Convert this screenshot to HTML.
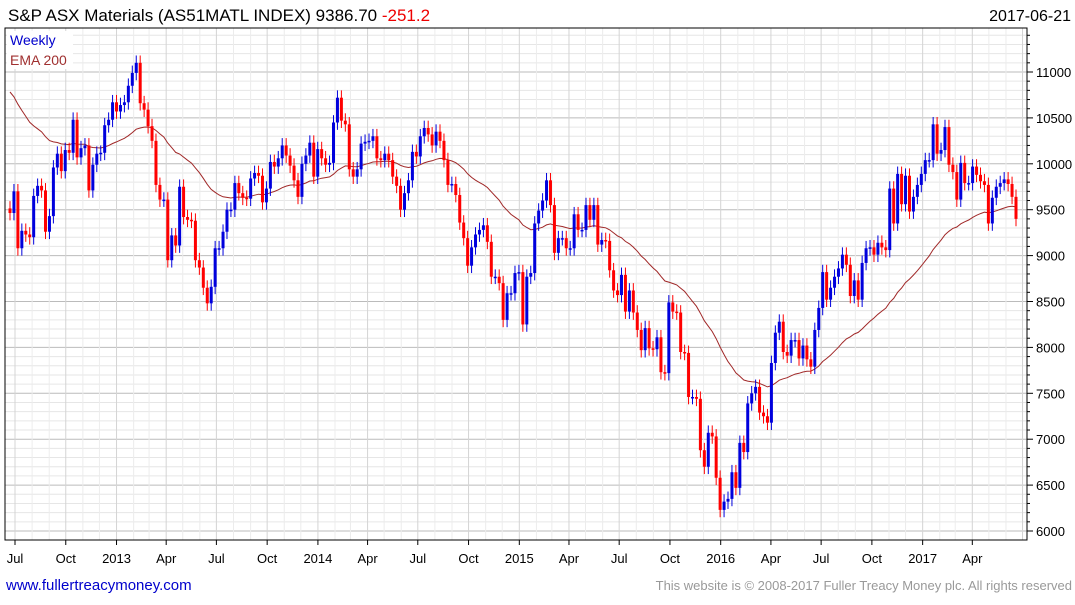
<!DOCTYPE html>
<html><head><meta charset="utf-8"><style>
body{margin:0;background:#fff;font-family:"Liberation Sans",sans-serif}
svg text{font-family:"Liberation Sans",sans-serif}
</style></head><body>
<svg id="c" width="1075" height="600" xmlns="http://www.w3.org/2000/svg">
<rect x="0" y="0" width="1075" height="600" fill="#fff"/>
<g id="grid"></g>
<g id="ema"></g>
<g id="candles"></g>
<rect x="5" y="28" width="1022" height="512" fill="none" stroke="#000" stroke-width="1"/>
<g id="axes"></g>
<text x="8" y="21" font-size="17" fill="#000">S&amp;P ASX Materials (AS51MATL INDEX) 9386.70 <tspan fill="#e00">-251.2</tspan></text>
<text x="1071" y="21" font-size="16" fill="#000" text-anchor="end">2017-06-21</text>
<rect x="7" y="31" width="66" height="38" fill="#fff"/>
<text x="10" y="45" font-size="14" fill="#00c">Weekly</text>
<text x="10" y="65" font-size="14" fill="#a03030">EMA 200</text>
<text x="6" y="590" font-size="15" fill="#00c">www.fullertreacymoney.com</text>
<text x="1072" y="590" font-size="13" fill="#999" text-anchor="end">This website is © 2008-2017 Fuller Treacy Money plc. All rights reserved</text>
</svg>
<script>
const closes2012=[9464,9700,9080,9270,9230,9200,9650,9760,9710,9260,9430,9960,10110,9920,10150,10120,10480,10070,10170,10200,9710,9990,10110,10120,10420,10480,10670,10570,10640,10670,10850,10990,11100,10660,10590,10410,10250,9770,9610,9610,8950,9220,9110,9750,9420,9390,9380,8950,8870,8650];
const closes2013=[8480,8660,9080,9080,9260,9500,9500,9790,9680,9630,9620,9840,9900,9870,9580,9730,10020,9970,10060,10200,10090,9980,9820,9640,10000,10090,10230,9860,10160,10060,9990,10010,10450,10720,10470,10430,9940,9860,9940,10220,10240,10250,10300,10060,10040,10110,10040,9860,9760,9500,9680,9820,10130,10080,10300,10390,10320,10200,10350,10250,10040,9770,9780,9660];
const closes2014=[9360,9190,8890,9090,9230,9280,9330,9150,8770,8770,8700,8300,8590,8590,8810,8820,8250,8770,8810,9350,9490,9600,9820,9550,9030,9190,9190,9080,9080,9450,9280,9280,9550,9390,9550,9120,9170,9160,8840,8620,8570,8790,8390,8620,8380,8190,7970,8210,7990,7980,8110,7730,7720,8490,8390,8380,7950,7940,7460,7460,7440];
const closes2016=[6880,6700,7070,7030,6580,6230,6320,6350,6640,6470,6960,6860,7390,7500,7570,7290,7250,7180,7830,8160,8280,7950,7910,8080,8080,7880,8020,7870,7790,8190,8430,8820,8520,8650,8770,8860,9010,8900,8560,8730,8520,8920,9080,9090,9010,9140,9090,9060,9730,9350,9890,9560,9870,9480,9640,9770,9890,10040,10040,10430,10110,10150,10400,9990,9910,9610,10010,9790,9790,9970,9880,9810,9770,9350,9630,9750,9790,9830,9780,9640,9400];
const closes=closes2012.concat(closes2013,closes2014,closes2016);
const yTicks=[6000,6500,7000,7500,8000,8500,9000,9500,10000,10500,11000];
const xTickLabels=["Jul","Oct","2013","Apr","Jul","Oct","2014","Apr","Jul","Oct","2015","Apr","Jul","Oct","2016","Apr","Jul","Oct","2017","Apr"];
const xTickDates=["2012-07-01","2012-10-01","2013-01-01","2013-04-01","2013-07-01","2013-10-01","2014-01-01","2014-04-01","2014-07-01","2014-10-01","2015-01-01","2015-04-01","2015-07-01","2015-10-01","2016-01-01","2016-04-01","2016-07-01","2016-10-01","2017-01-01","2017-04-01"];
const emaStart=10850;
const NS="http://www.w3.org/2000/svg";
const d0=Date.parse("2012-07-01"),d1=Date.parse("2017-06-21");
function xDay(t){return 15+(t-d0)/(d1-d0)*(1017-15);}
function xIdx(i,n){return 10+i*(1016-10)/(n-1);}
function y(v){return 531-(v-6000)*0.0918;}
function mk(tag,attrs,parent){const e=document.createElementNS(NS,tag);for(const k in attrs)e.setAttribute(k,attrs[k]);parent.appendChild(e);return e;}
const grid=document.getElementById('grid'),axes=document.getElementById('axes');
for(let v=5600;v<=11500;v+=100){const yy=y(v);if(yy<28||yy>540)continue;
 const major=v%500===0;
 const l=mk('line',{x1:5,x2:1027,y1:yy,y2:yy,stroke:major?'#bbb':'#e6e6e6','stroke-width':1},grid);
 
 const t=mk('line',{x1:1027,x2:major?1033:1030,y1:yy,y2:yy,stroke:'#000'},axes);
 }
for(let yr=2012;yr<=2017;yr++)for(let m=0;m<12;m++){const t=Date.UTC(yr,m,1);const xx=xDay(t);if(xx<5||xx>1027)continue;
 const l=mk('line',{x1:xx,x2:xx,y1:28,y2:540,stroke:m%3===0?'#d4d4d4':'#ececec'},grid);
 }
yTicks.forEach(v=>{const t=mk('text',{x:1036,y:y(v)+5,'font-size':13,fill:'#000'},axes);t.textContent=v;
 });
xTickLabels.forEach((s,i)=>{const xx=xDay(Date.parse(xTickDates[i]));
 const tk=mk('line',{x1:xx,x2:xx,y1:540,y2:545,stroke:'#000'},axes);
 
 const t=mk('text',{x:xx,y:563,'font-size':13,fill:'#000','text-anchor':'middle'},axes);t.textContent=s;
 });
const cg=document.getElementById('candles');const n=closes.length;const wick=80;
let ema=emaStart;const alpha=2/41;const pts=[];
for(let i=0;i<n;i++){
 const xx=xIdx(i,n);
 const c=closes[i],o=i>0?closes[i-1]:c+50;
 const hi=Math.max(o,c)+wick,lo=Math.min(o,c)-wick;
 const col=c>=o?'#0000dd':'#ff0000';
 const w=mk('line',{x1:xx,x2:xx,y1:y(hi),y2:y(lo),stroke:col,'stroke-width':1},cg);
 
 const top=y(Math.max(o,c)),bh=Math.max(1.5,y(Math.min(o,c))-top);
 const b=mk('rect',{x:xx-1.5,y:top,width:3,height:bh,fill:col},cg);
 
 ema=ema+alpha*(c-ema);pts.push(xx.toFixed(1)+','+y(ema).toFixed(1));
}
const ep=mk('polyline',{points:pts.join(' '),fill:'none',stroke:'#a02828','stroke-width':1},document.getElementById('ema'));

</script>
</body></html>
